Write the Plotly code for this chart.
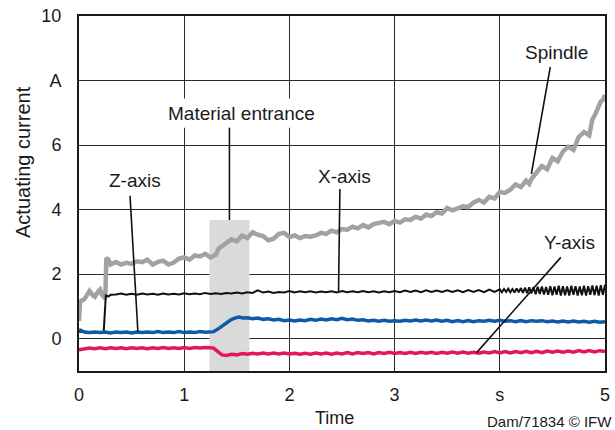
import plotly.graph_objects as go

# ---------------- data ----------------
spindle_t = [0.00, 0.01, 0.05, 0.08, 0.10, 0.13, 0.15, 0.18, 0.20, 0.22, 0.24, 0.25, 0.26, 0.28, 0.30,
             0.35, 0.40, 0.45, 0.50, 0.55, 0.60, 0.65, 0.70, 0.75, 0.80, 0.85, 0.90, 0.95, 1.00,
             1.05, 1.10, 1.15, 1.20, 1.25, 1.30, 1.33, 1.36, 1.40, 1.45, 1.50, 1.55, 1.60, 1.65,
             1.70, 1.75, 1.80, 1.85, 1.90, 1.95, 2.00, 2.05, 2.10, 2.15, 2.20, 2.25, 2.30, 2.35,
             2.40, 2.45, 2.50, 2.55, 2.60, 2.65, 2.70, 2.75, 2.80, 2.85, 2.90, 2.95, 3.00, 3.05,
             3.10, 3.15, 3.20, 3.25, 3.30, 3.35, 3.40, 3.45, 3.50, 3.55, 3.60, 3.65, 3.70, 3.75,
             3.80, 3.85, 3.90, 3.95, 4.00, 4.05, 4.10, 4.15, 4.20, 4.25, 4.28, 4.30, 4.35, 4.40,
             4.45, 4.50, 4.55, 4.60, 4.65, 4.70, 4.75, 4.80, 4.85, 4.88, 4.90, 4.93, 4.96, 4.98, 5.00]
spindle_a = [0.55, 1.15, 1.22, 1.40, 1.48, 1.35, 1.30, 1.45, 1.52, 1.35, 1.28, 1.30, 2.50, 2.45, 2.30,
             2.38, 2.30, 2.35, 2.32, 2.40, 2.37, 2.45, 2.30, 2.38, 2.42, 2.30, 2.36, 2.48, 2.52,
             2.45, 2.58, 2.55, 2.63, 2.52, 2.60, 2.80, 2.88, 2.95, 3.08, 3.02, 3.20, 3.12, 3.30,
             3.22, 3.18, 3.05, 3.10, 3.25, 3.28, 3.15, 3.20, 3.12, 3.18, 3.16, 3.20, 3.28, 3.25,
             3.35, 3.30, 3.40, 3.38, 3.47, 3.42, 3.52, 3.45, 3.55, 3.58, 3.62, 3.55, 3.65, 3.60,
             3.70, 3.68, 3.78, 3.72, 3.85, 3.80, 3.92, 3.88, 4.05, 3.98, 4.05, 4.10, 4.08, 4.22,
             4.30, 4.22, 4.40, 4.35, 4.55, 4.52, 4.62, 4.78, 4.70, 4.90, 4.80, 4.95, 5.15, 5.35,
             5.25, 5.60, 5.50, 5.80, 5.95, 5.85, 6.25, 6.40, 6.30, 6.80, 6.90, 7.15, 7.35, 7.40, 7.55]

xaxis_t = [0.00, 0.10, 0.20, 0.235, 0.255, 0.28, 0.30,
           0.35, 0.40, 0.45, 0.50, 0.55, 0.60, 0.65, 0.70, 0.75, 0.80, 0.85, 0.90, 0.95, 1.00,
           1.05, 1.10, 1.15, 1.20, 1.25, 1.30, 1.35, 1.40, 1.45, 1.50, 1.55, 1.60, 1.65, 1.70,
           1.75, 1.80, 1.85, 1.90, 1.95, 2.00, 2.05, 2.10, 2.15, 2.20, 2.25, 2.30, 2.35, 2.40,
           2.45, 2.50, 2.55, 2.60, 2.65, 2.70, 2.75, 2.80, 2.85, 2.90, 2.95, 3.00, 3.05, 3.10,
           3.15, 3.20, 3.25, 3.30, 3.35, 3.40, 3.45, 3.50, 3.55, 3.60, 3.65, 3.70, 3.75, 3.80,
           3.85, 3.90, 3.95, 4.00,
           4.02, 4.04, 4.06, 4.08, 4.10, 4.12, 4.14, 4.16, 4.18, 4.20, 4.22, 4.24, 4.26, 4.28,
           4.30, 4.32, 4.34, 4.36, 4.38, 4.40, 4.42, 4.44, 4.46, 4.48, 4.50, 4.52, 4.54, 4.56,
           4.58, 4.60, 4.62, 4.64, 4.66, 4.68, 4.70, 4.72, 4.74, 4.76, 4.78, 4.80, 4.82, 4.84,
           4.86, 4.88, 4.90, 4.92, 4.94, 4.96, 4.98, 5.00]
xaxis_a = [0.22, 0.20, 0.20, 0.22, 1.34, 1.31, 1.36,
           1.37, 1.40, 1.36, 1.39, 1.36, 1.40, 1.37, 1.39, 1.36, 1.40, 1.37, 1.39, 1.37, 1.41,
           1.38, 1.40, 1.38, 1.42, 1.39, 1.41, 1.39, 1.42, 1.40, 1.43, 1.40, 1.44, 1.42, 1.50,
           1.43, 1.46, 1.42, 1.45, 1.43, 1.48, 1.43, 1.47, 1.44, 1.47, 1.43, 1.46, 1.44, 1.47,
           1.43, 1.48, 1.44, 1.47, 1.44, 1.48, 1.44, 1.47, 1.43, 1.47, 1.44, 1.48, 1.44, 1.49,
           1.45, 1.49, 1.44, 1.50, 1.45, 1.49, 1.45, 1.50, 1.45, 1.50, 1.44, 1.51, 1.45, 1.51,
           1.44, 1.52, 1.45, 1.53,
           1.44, 1.54, 1.45, 1.55, 1.44, 1.54, 1.43, 1.56, 1.44, 1.57, 1.42, 1.58, 1.41, 1.59,
           1.40, 1.60, 1.38, 1.61, 1.39, 1.62, 1.37, 1.60, 1.36, 1.63, 1.35, 1.62, 1.36, 1.64,
           1.34, 1.63, 1.35, 1.62, 1.34, 1.64, 1.36, 1.63, 1.34, 1.62, 1.35, 1.64, 1.34, 1.63,
           1.36, 1.65, 1.35, 1.64, 1.34, 1.66, 1.36, 1.67]

zaxis_t = [0.00, 0.03, 0.06, 0.10, 0.15, 0.20, 0.25, 0.30, 0.35, 0.40, 0.45, 0.50, 0.55, 0.60,
           0.65, 0.70, 0.75, 0.80, 0.85, 0.90, 0.95, 1.00, 1.05, 1.10, 1.15, 1.20, 1.25, 1.28,
           1.32, 1.36, 1.40, 1.44, 1.48, 1.52, 1.56, 1.60, 1.65, 1.70, 1.75, 1.80, 1.85, 1.90,
           1.95, 2.00, 2.05, 2.10, 2.15, 2.20, 2.25, 2.30, 2.35, 2.40, 2.45, 2.50, 2.55, 2.60,
           2.65, 2.70, 2.75, 2.80, 2.85, 2.90, 2.95, 3.00, 3.05, 3.10, 3.15, 3.20, 3.25, 3.30,
           3.35, 3.40, 3.45, 3.50, 3.55, 3.60, 3.65, 3.70, 3.75, 3.80, 3.85, 3.90, 3.95, 4.00,
           4.05, 4.10, 4.15, 4.20, 4.25, 4.30, 4.35, 4.40, 4.45, 4.50, 4.55, 4.60, 4.65, 4.70,
           4.75, 4.80, 4.85, 4.90, 4.95, 5.00]
zaxis_a = [0.28, 0.23, 0.20, 0.19, 0.21, 0.19, 0.21, 0.18, 0.21, 0.19, 0.21, 0.18, 0.21, 0.19,
           0.21, 0.19, 0.22, 0.19, 0.21, 0.19, 0.22, 0.19, 0.21, 0.19, 0.22, 0.20, 0.21, 0.22,
           0.30, 0.40, 0.50, 0.58, 0.64, 0.67, 0.64, 0.65, 0.62, 0.64, 0.60, 0.62, 0.58, 0.60,
           0.56, 0.58, 0.55, 0.58, 0.56, 0.60, 0.57, 0.61, 0.58, 0.62, 0.59, 0.63, 0.59, 0.61,
           0.57, 0.59, 0.55, 0.57, 0.54, 0.57, 0.54, 0.56, 0.54, 0.57, 0.55, 0.58, 0.55, 0.58,
           0.55, 0.58, 0.54, 0.57, 0.53, 0.56, 0.53, 0.56, 0.53, 0.56, 0.54, 0.57, 0.54, 0.57,
           0.54, 0.56, 0.53, 0.56, 0.53, 0.56, 0.54, 0.56, 0.53, 0.55, 0.52, 0.55, 0.52, 0.55,
           0.52, 0.54, 0.51, 0.54, 0.51, 0.53]

yaxis_t = [0.00, 0.05, 0.10, 0.15, 0.20, 0.25, 0.30, 0.35, 0.40, 0.45, 0.50, 0.55, 0.60, 0.65,
           0.70, 0.75, 0.80, 0.85, 0.90, 0.95, 1.00, 1.05, 1.10, 1.15, 1.20, 1.25, 1.28, 1.32,
           1.36, 1.40, 1.45, 1.50, 1.55, 1.60, 1.65, 1.70, 1.75, 1.80, 1.85, 1.90, 1.95, 2.00,
           2.05, 2.10, 2.15, 2.20, 2.25, 2.30, 2.35, 2.40, 2.45, 2.50, 2.55, 2.60, 2.65, 2.70,
           2.75, 2.80, 2.85, 2.90, 2.95, 3.00, 3.05, 3.10, 3.15, 3.20, 3.25, 3.30, 3.35, 3.40,
           3.45, 3.50, 3.55, 3.60, 3.65, 3.70, 3.75, 3.80, 3.85, 3.90, 3.95, 4.00, 4.05, 4.10,
           4.15, 4.20, 4.25, 4.30, 4.35, 4.40, 4.45, 4.50, 4.55, 4.60, 4.65, 4.70, 4.75, 4.80,
           4.85, 4.90, 4.95, 5.00]
yaxis_a = [-0.34, -0.31, -0.29, -0.31, -0.28, -0.31, -0.28, -0.30, -0.28, -0.31, -0.28, -0.30,
           -0.28, -0.31, -0.28, -0.30, -0.27, -0.30, -0.28, -0.30, -0.27, -0.30, -0.27, -0.29,
           -0.27, -0.28, -0.29, -0.40, -0.50, -0.52, -0.48, -0.50, -0.46, -0.48, -0.45, -0.47,
           -0.44, -0.47, -0.44, -0.47, -0.44, -0.47, -0.45, -0.48, -0.45, -0.48, -0.44, -0.47,
           -0.44, -0.48, -0.44, -0.47, -0.43, -0.47, -0.43, -0.46, -0.43, -0.47, -0.43, -0.46,
           -0.42, -0.46, -0.43, -0.46, -0.42, -0.46, -0.42, -0.45, -0.42, -0.46, -0.42, -0.45,
           -0.41, -0.45, -0.41, -0.45, -0.42, -0.45, -0.41, -0.44, -0.40, -0.44, -0.40, -0.44,
           -0.40, -0.43, -0.39, -0.43, -0.39, -0.43, -0.38, -0.42, -0.38, -0.42, -0.38, -0.42,
           -0.37, -0.41, -0.37, -0.41, -0.37, -0.40]

x_tickvals = [0, 1, 2, 3, 4, 5]
x_ticktext = ["0", "1", "2", "3", "s", "5"]
y_tickvals = [0, 2, 4, 6, 8, 10]
y_ticktext = ["0", "2", "4", "6", "A", "10"]

entrance_window = [1.24, 1.62, 3.68]  # t start, t end, top

# label text, text anchor (x, y), leader line (x0, y0, x1, y1)
labels = [
    ("Z-axis", 0.53, 4.89, (0.485, 4.43, 0.56, 0.21)),
    ("Material entrance", 1.54, 6.98, (1.43, 6.54, 1.43, 3.68)),
    ("X-axis", 2.52, 5.04, (2.48, 4.64, 2.467, 1.45)),
    ("Spindle", 4.54, 8.88, (4.48, 8.42, 4.30, 5.11)),
    ("Y-axis", 4.66, 2.99, (4.58, 2.52, 3.78, -0.43)),
]

FONT = "Liberation Sans, Arial, Helvetica, sans-serif"
TXT = "#1a1a1a"

fig = go.Figure()
fig.add_trace(go.Scatter(x=spindle_t, y=spindle_a, mode="lines",
                         line=dict(color="#a2a2a2", width=4.5), name="Spindle"))
fig.add_trace(go.Scatter(x=xaxis_t, y=xaxis_a, mode="lines",
                         line=dict(color="#111111", width=2), name="X-axis"))
fig.add_trace(go.Scatter(x=zaxis_t, y=zaxis_a, mode="lines",
                         line=dict(color="#0f5aa8", width=3.5), name="Z-axis"))
fig.add_trace(go.Scatter(x=yaxis_t, y=yaxis_a, mode="lines",
                         line=dict(color="#e3185a", width=3.5), name="Y-axis"))

shapes = [
    dict(type="rect", xref="x", yref="y", x0=entrance_window[0], x1=entrance_window[1],
         y0=-1, y1=entrance_window[2], fillcolor="#d9dbdb", line=dict(width=0), layer="between"),
    dict(type="rect", xref="x", yref="y", x0=0.69, x1=2.29, y0=6.54, y1=7.44,
         fillcolor="white", line=dict(width=0), layer="between"),
]
for text, tx, ty, (x0, y0, x1, y1) in labels:
    shapes.append(dict(type="line", xref="x", yref="y", x0=x0, y0=y0, x1=x1, y1=y1,
                       line=dict(color="#111111", width=1.6), layer="above"))

annotations = []
for text, tx, ty, _ in labels:
    annotations.append(dict(x=tx, y=ty, xref="x", yref="y", text=text, showarrow=False,
                            xanchor="center", yanchor="middle",
                            font=dict(family=FONT, size=19, color=TXT)))
annotations += [
    dict(x=0, y=(371 - 162) / 355, xref="paper", yref="paper", text="Actuating current",
         textangle=-90, showarrow=False, xanchor="center", yanchor="middle", xshift=-56,
         font=dict(family=FONT, size=20, color=TXT)),
    dict(x=(334 - 79) / 526, y=0, xref="paper", yref="paper", text="Time", showarrow=False,
         xanchor="center", yanchor="middle", yshift=-47,
         font=dict(family=FONT, size=18, color=TXT)),
    dict(x=(611 - 79) / 526, y=0, xref="paper", yref="paper", text="Dam/71834 © IFW",
         showarrow=False, xanchor="right", yanchor="middle", yshift=-50, xshift=3,
         font=dict(family=FONT, size=15, color=TXT)),
]

fig.update_layout(
    width=615, height=430,
    margin=dict(l=79, r=10, t=16, b=59, autoexpand=False),
    paper_bgcolor="white", plot_bgcolor="white",
    showlegend=False,
    shapes=shapes, annotations=annotations,
    font=dict(family=FONT, size=18, color=TXT),
)
fig.update_xaxes(range=[0, 5], tickvals=x_tickvals, ticktext=x_ticktext,
                 showgrid=True, gridcolor="#2a2a2a", gridwidth=1.3,
                 showline=True, linecolor="#1a1a1a", linewidth=2, mirror=True,
                 zeroline=False, ticks="", ticklabelstandoff=6, automargin=False,
                 tickfont=dict(family=FONT, size=18, color=TXT))
fig.update_yaxes(range=[-1, 10], tickvals=y_tickvals, ticktext=y_ticktext,
                 showgrid=True, gridcolor="#2a2a2a", gridwidth=1.3,
                 showline=True, linecolor="#1a1a1a", linewidth=2, mirror=True,
                 zeroline=False, ticks="", ticklabelstandoff=12, automargin=False,
                 tickfont=dict(family=FONT, size=18, color=TXT))

fig.write_html("out.html", config={"displayModeBar": False},
               post_script="document.body.style.margin='0';document.body.style.overflow='hidden';")
